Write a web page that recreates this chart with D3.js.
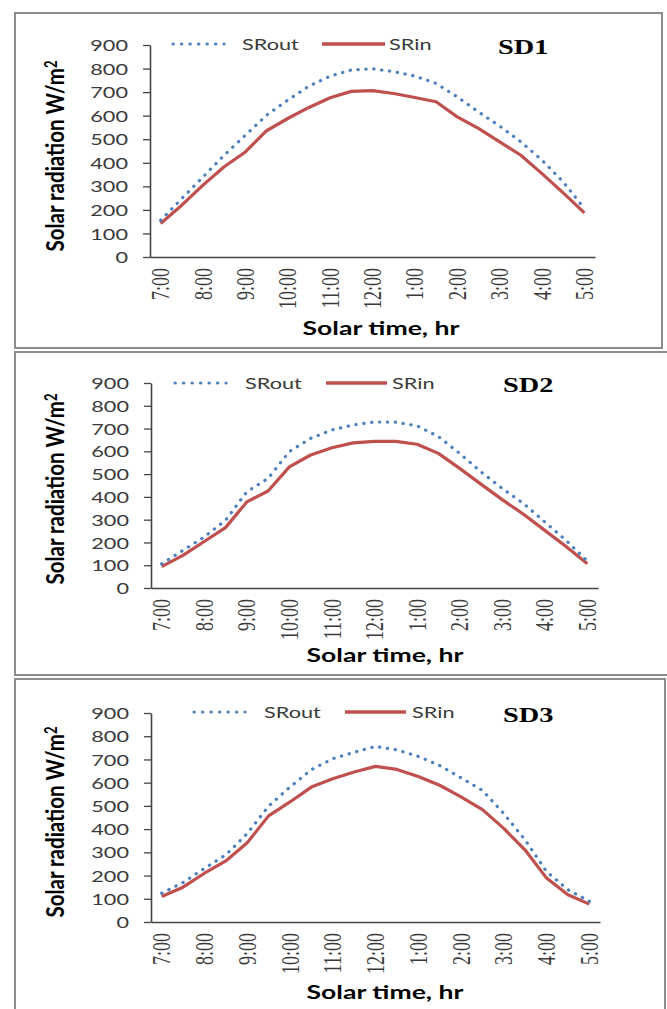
<!DOCTYPE html>
<html>
<head>
<meta charset="utf-8">
<script src="https://cdn.jsdelivr.net/npm/d3@7"></script>
<style>
  html, body { margin: 0; padding: 0; background: #fff; }
  svg { display: block; }
</style>
</head>
<body>
<svg id="chart" width="667" height="1009"></svg>
<script>
// ---------- data ----------
const categories = ["7:00","7:30","8:00","8:30","9:00","9:30","10:00","10:30","11:00","11:30",
  "12:00","12:30","1:00","1:30","2:00","2:30","3:00","3:30","4:00","4:30","5:00"];
const tickLabels = ["7:00","8:00","9:00","10:00","11:00","12:00","1:00","2:00","3:00","4:00","5:00"];
const yTicks = [0,100,200,300,400,500,600,700,800,900];
const seriesNames = ["SRout","SRin"];
const panelTitles = ["SD1","SD2","SD3"];

const sd1Out = [156,248,340,432,517,602,666,725,768,794,799,787,768,737,680,616,556,489,411,319,205];
const sd1In  = [142,220,305,383,446,536,588,635,676,703,706,694,677,659,595,546,489,432,354,272,187];
const sd2Out = [106,165,224,297,422,481,599,657,694,716,729,728,712,665,591,510,437,371,290,209,118];
const sd2In  = [94,143,204,265,378,426,532,584,616,637,644,644,631,591,525,456,388,324,253,182,106];
const sd3Out = [124,170,231,289,381,499,581,656,703,731,756,741,713,674,621,567,467,353,217,139,89];
const sd3In  = [110,150,210,263,341,457,517,581,617,646,670,657,627,589,539,484,403,310,189,117,77];

const panelData = [[sd1Out, sd1In],[sd2Out, sd2In],[sd3Out, sd3In]];

// ---------- layout ----------
const layout = [
  { box:[15,13,647,335], x0:150, x1:595, yTop:45, yBot:257,
    legY:44, dot:[173,224], outTx:242, red:[322,385], inTx:389, sdX:498, sdY:54,
    xtX:381, xtY:335, ytX:64, ytY:156 },
  { box:[15,352,665,323], x0:151, x1:598, yTop:383, yBot:588,
    legY:383, dot:[175,226], outTx:245, red:[326,387], inTx:392, sdX:503, sdY:392,
    xtX:385, xtY:662, ytX:64, ytY:489 },
  { box:[15,679,650,345], x0:151, x1:600, yTop:713, yBot:922,
    legY:712, dot:[194,245], outTx:264, red:[345,406], inTx:412, sdX:503, sdY:722,
    xtX:385, xtY:999, ytX:64, ytY:822 }
];

const SX = 1.4;               // horizontal stretch of the original picture
const sans = "Lato, 'Open Sans', sans-serif";
const serif = "'Liberation Serif', 'DejaVu Serif', serif";
const blue = "#4F81BD", red = "#C0504D";

const svg = d3.select("#chart");

layout.forEach((L, p) => {
  const g = svg.append("g");
  const [bx, by, bw, bh] = L.box;
  g.append("rect").attr("x", bx).attr("y", by).attr("width", bw).attr("height", bh)
    .attr("fill", "none").attr("stroke", "#8c8c8c").attr("stroke-width", 2);

  const x = d3.scaleBand().domain(categories).range([L.x0, L.x1]);
  const y = d3.scaleLinear().domain([0, 900]).range([L.yBot, L.yTop]);

  // y axis
  const ya = g.append("g").attr("transform", `translate(${L.x0},0)`)
    .call(d3.axisLeft(y).tickValues(yTicks).tickSize(7).tickSizeOuter(0).tickPadding(15));
  ya.select(".domain").attr("stroke", "#444").attr("stroke-width", 1.6);
  ya.selectAll(".tick line").attr("stroke", "#444").attr("stroke-width", 1.3);
  ya.selectAll(".tick text").each(function() {
    const t = d3.select(this);
    const tx = +t.attr("x");
    t.attr("x", 0).attr("transform", `translate(${tx},0) scale(${SX},1)`)
      .attr("font-family", sans).attr("font-size", 15.5).attr("fill", "#3a3a3a")
      .attr("dy", "0.36em");
  });

  // x axis
  const xa = g.append("g").attr("transform", `translate(0,${L.yBot})`)
    .call(d3.axisBottom(x).tickValues(tickLabels).tickSize(0).tickSizeOuter(0));
  xa.select(".domain").attr("stroke", "#444").attr("stroke-width", 1.3);
  xa.selectAll(".tick text").each(function() {
    const t = d3.select(this);
    t.attr("x", 0).attr("y", 0).attr("dy", "0.34em")
      .attr("transform", `translate(0,11) scale(${SX},1) rotate(-90)`)
      .attr("text-anchor", "end")
      .attr("font-family", serif).attr("font-size", 18).attr("fill", "#3a3a3a");
  });

  // lines
  const line = d3.line().x((d, i) => x(categories[i]) + x.bandwidth() / 2).y(d => y(d));
  const [outV, inV] = panelData[p];
  g.append("path").datum(inV).attr("d", line).attr("fill", "none")
    .attr("stroke", red).attr("stroke-width", 3.2).attr("stroke-linejoin", "round");
  g.append("path").datum(outV).attr("d", line).attr("fill", "none")
    .attr("stroke", blue).attr("stroke-width", 3.2).attr("stroke-linecap", "round")
    .attr("stroke-dasharray", "0.3 7.6");

  // legend
  g.append("line").attr("x1", L.dot[0]).attr("x2", L.dot[1]).attr("y1", L.legY).attr("y2", L.legY)
    .attr("stroke", blue).attr("stroke-width", 3.2).attr("stroke-linecap", "round")
    .attr("stroke-dasharray", "0.3 8.2");
  g.append("line").attr("x1", L.red[0]).attr("x2", L.red[1]).attr("y1", L.legY).attr("y2", L.legY)
    .attr("stroke", red).attr("stroke-width", 3.4);
  [[L.outTx, seriesNames[0]], [L.inTx, seriesNames[1]]].forEach(([tx, s]) => {
    g.append("text").attr("transform", `translate(${tx},${L.legY}) scale(${SX},1)`)
      .attr("dy", "0.36em").attr("font-family", sans).attr("font-size", 15.5)
      .attr("fill", "#3a3a3a").text(s);
  });

  // panel title
  g.append("text").attr("transform", `translate(${L.sdX},${L.sdY}) scale(1.35,1)`)
    .attr("font-family", serif).attr("font-weight", "bold").attr("font-size", 21)
    .attr("fill", "#000").text(panelTitles[p]);

  // x title
  g.append("text").attr("transform", `translate(${L.xtX},${L.xtY}) scale(${SX},1)`)
    .attr("text-anchor", "middle").attr("font-family", sans).attr("font-weight", "bold")
    .attr("font-size", 19).attr("fill", "#000").text("Solar time, hr");

  // y title
  const yt = g.append("text").attr("transform", `translate(${L.ytX},${L.ytY}) scale(1.25,1) rotate(-90)`)
    .attr("text-anchor", "middle").attr("font-family", sans).attr("font-weight", "bold")
    .attr("font-size", 20.5).attr("fill", "#000");
  yt.append("tspan").text("Solar radiation  W/m");
  yt.append("tspan").attr("dy", "-0.45em").attr("font-size", 13).text("2");
});
</script>
</body>
</html>
